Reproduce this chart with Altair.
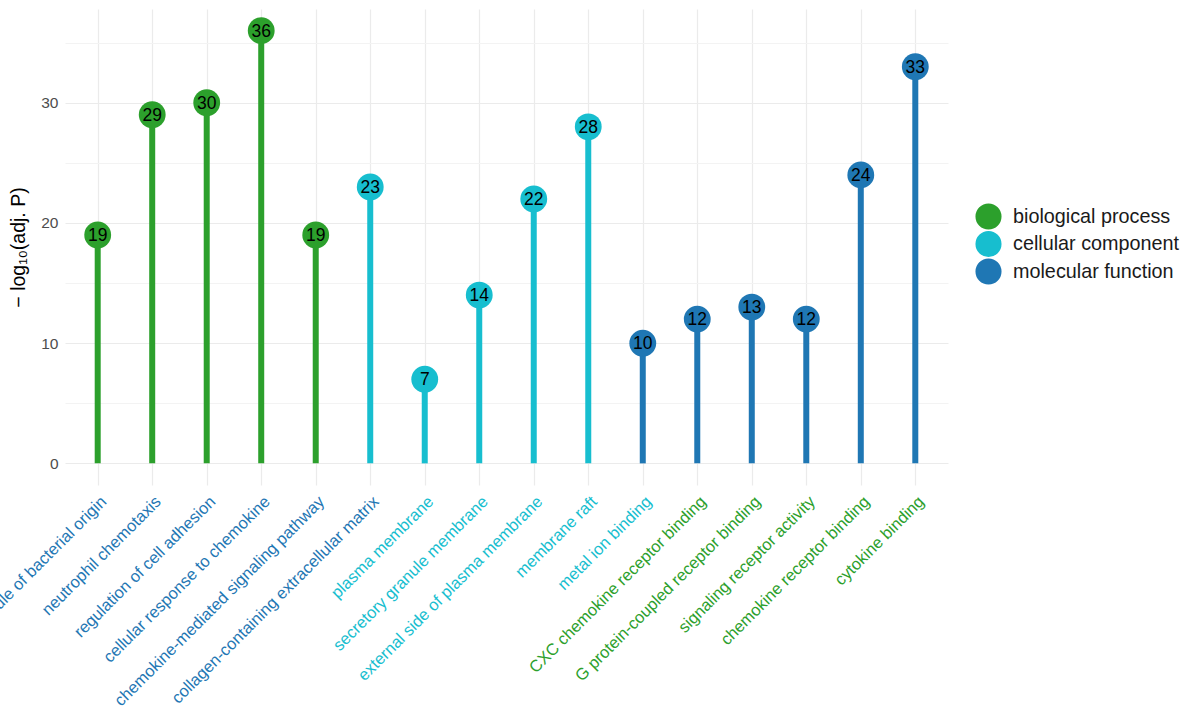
import altair as alt
import pandas as pd

terms = [
    "response to molecule of bacterial origin",
    "neutrophil chemotaxis",
    "regulation of cell adhesion",
    "cellular response to chemokine",
    "chemokine-mediated signaling pathway",
    "collagen-containing extracellular matrix",
    "plasma membrane",
    "secretory granule membrane",
    "external side of plasma membrane",
    "membrane raft",
    "metal ion binding",
    "CXC chemokine receptor binding",
    "G protein-coupled receptor binding",
    "signaling receptor activity",
    "chemokine receptor binding",
    "cytokine binding",
]
groups = (["biological process"] * 5 + ["cellular component"] * 5
          + ["molecular function"] * 6)
values = [19, 29, 30, 36, 19, 23, 7, 14, 22, 28, 10, 12, 13, 12, 24, 33]

categories = ["biological process", "cellular component", "molecular function"]
colors = ["#2ca02c", "#17becf", "#1f77b4"]

df = pd.DataFrame({"term": terms, "group": groups, "value": values, "zero": 0})

blue_terms = terms[:6]
cyan_terms = terms[6:11]
label_color_expr = (
    "indexof(" + str(blue_terms) + ", datum.value) >= 0 ? '#1f77b4' : "
    "(indexof(" + str(cyan_terms) + ", datum.value) >= 0 ? '#17becf' : '#2ca02c')"
)

FONT = "Liberation Sans"

x_enc = alt.X(
    "term:N",
    sort=terms,
    scale=alt.Scale(type="point", padding=0.6),
    axis=alt.Axis(
        title=None,
        labelAngle=-45,
        labelAlign="right",
        labelBaseline="top",
        labelFontSize=16.5,
        labelFont=FONT,
        labelColor=alt.ExprRef(label_color_expr),
        labelPadding=8,
        labelLimit=400,
        ticks=False,
        domain=False,
        grid=True,
        gridColor="#ebebeb",
        gridWidth=1.2,
    ),
)

y_scale = alt.Scale(domain=[-1.8, 37.8], nice=False, zero=False)
y_enc = alt.Y(
    "value:Q",
    scale=y_scale,
    axis=alt.Axis(
        title="− log₁₀(adj. P)",
        titleFontSize=19.5,
        titleFont=FONT,
        titleFontWeight="normal",
        titleColor="#000000",
        titlePadding=12,
        values=[0, 5, 10, 15, 20, 25, 30, 35],
        labelExpr="datum.value % 10 == 0 ? datum.label : ''",
        labelFontSize=15.5,
        labelFont=FONT,
        labelColor="#4d4d4d",
        labelPadding=7,
        ticks=False,
        domain=False,
        grid=True,
        gridColor=alt.ExprRef("datum.value % 10 == 0 ? '#ebebeb' : '#f3f3f3'"),
        gridWidth=1.2,
    ),
)

color_enc = alt.Color(
    "group:N",
    scale=alt.Scale(domain=categories, range=colors),
    legend=alt.Legend(
        title=None,
        orient="none",
        legendX=910,
        legendY=194,
        symbolType="circle",
        symbolSize=680,
        symbolStrokeWidth=0,
        symbolOpacity=1,
        labelFontSize=19.8,
        labelFont=FONT,
        labelColor="#1a1a1a",
        labelLimit=300,
        rowPadding=0.5,
        labelOffset=11,
    ),
)

base = alt.Chart(df)

rules = base.mark_rule(strokeWidth=6).encode(
    x=x_enc, y=y_enc, y2="zero:Q", color=color_enc
)
points = base.mark_circle(size=720, opacity=1).encode(
    x=x_enc, y=y_enc, color=color_enc
)
labels = base.mark_text(fontSize=17.5, font=FONT, color="#000000", dy=1).encode(
    x=x_enc, y=y_enc, text="value:Q"
)

chart = (
    alt.layer(rules, points, labels)
    .properties(
        width=883,
        height=476,
        autosize=alt.AutoSizeParams(type="none"),
        padding={"left": 65, "top": 9, "right": 252, "bottom": 235},
        background="#ffffff",
    )
    .configure_view(stroke=None)
)

chart.save("out.html", embed_options={"renderer": "svg", "actions": False})
